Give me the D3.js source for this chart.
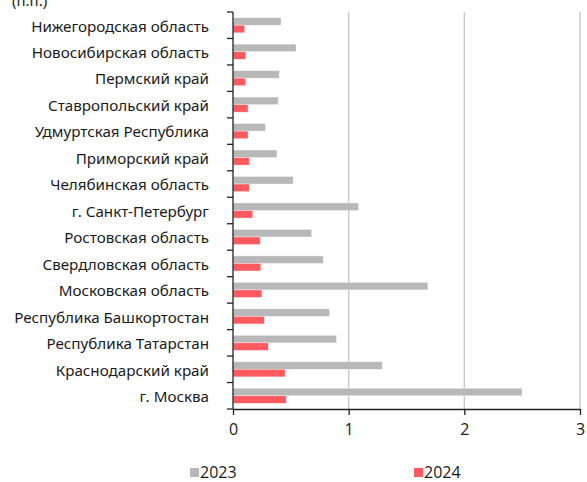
<!DOCTYPE html>
<html>
<head>
<meta charset="utf-8">
<script src="https://cdn.jsdelivr.net/npm/d3@7"></script>
<style>
  html, body { margin: 0; padding: 0; background: #fff; }
  svg { display: block; }
</style>
</head>
<body>
<svg id="chart" width="587" height="482"></svg>
<script>
// Regions, top to bottom
const regions = [
  "Нижегородская область",
  "Новосибирская область",
  "Пермский край",
  "Ставропольский край",
  "Удмуртская Республика",
  "Приморский край",
  "Челябинская область",
  "г. Санкт-Петербург",
  "Ростовская область",
  "Свердловская область",
  "Московская область",
  "Республика Башкортостан",
  "Республика Татарстан",
  "Краснодарский край",
  "г. Москва"
];
const values2023 = [0.415, 0.545, 0.40, 0.39, 0.28, 0.38, 0.52, 1.085, 0.68, 0.78, 1.685, 0.835, 0.895, 1.29, 2.50];
const values2024 = [0.10, 0.11, 0.11, 0.13, 0.13, 0.14, 0.14, 0.17, 0.235, 0.24, 0.25, 0.27, 0.305, 0.45, 0.46];
const seriesNames = ["2023", "2024"];
const xTicks = [0, 1, 2, 3];
const unitLabel = "(п.п.)";

const colors = { "2023": "#b8b8b8", "2024": "#ff5a5f" };
const labelFont = "'Noto Sans', sans-serif";
const numFont = "'Open Sans', sans-serif";

const svg = d3.select("#chart");
const margin = { top: 12, right: 7, bottom: 73, left: 233 };
const W = 587, H = 482;
const innerW = W - margin.left - margin.right;
const innerH = H - margin.top - margin.bottom;

const g = svg.append("g").attr("transform", `translate(${margin.left},${margin.top})`);

const x = d3.scaleLinear().domain([0, 3]).range([0, innerW]);
const y = d3.scaleBand().domain(regions).range([0, innerH]).paddingInner(0.43).paddingOuter(0.215);
const ySub = d3.scaleBand().domain(seriesNames).range([0, y.bandwidth()]);

// vertical gridlines
g.append("g").selectAll("line")
  .data(xTicks.filter(d => d > 0))
  .join("line")
  .attr("x1", d => x(d)).attr("x2", d => x(d))
  .attr("y1", 0).attr("y2", innerH)
  .attr("stroke", "#c8c8c8").attr("stroke-width", 1.4);

// bars
const rows = regions.map((r, i) => ({ region: r, vals: [values2023[i], values2024[i]] }));
const grp = g.append("g").selectAll("g")
  .data(rows).join("g")
  .attr("transform", d => `translate(0,${y(d.region)})`);
grp.selectAll("rect")
  .data(d => seriesNames.map((s, k) => ({ s, v: d.vals[k] })))
  .join("rect")
  .attr("x", x(0))
  .attr("y", d => ySub(d.s))
  .attr("width", d => x(d.v) - x(0))
  .attr("height", ySub.bandwidth())
  .attr("fill", d => colors[d.s])
  .attr("stroke", "#fff").attr("stroke-opacity", 0.6).attr("stroke-width", 0.6);

// y axis with category ticks on band boundaries
const yAxisG = g.append("g");
yAxisG.append("line")
  .attr("x1", 0).attr("x2", 0).attr("y1", 0).attr("y2", innerH)
  .attr("stroke", "#222").attr("stroke-width", 1.3);
const boundaries = d3.range(regions.length + 1).map(i => i * innerH / regions.length);
yAxisG.selectAll("line.tk")
  .data(boundaries).join("line").attr("class", "tk")
  .attr("x1", -6).attr("x2", 0)
  .attr("y1", d => d).attr("y2", d => d)
  .attr("stroke", "#222").attr("stroke-width", 1.3);
yAxisG.selectAll("text")
  .data(regions).join("text")
  .attr("x", -24)
  .attr("y", d => y(d) + y.bandwidth() / 2 + 1)
  .attr("dy", "0.35em")
  .attr("text-anchor", "end")
  .attr("font-family", labelFont)
  .attr("font-size", 15.2)
  .attr("fill", "#1a1a1a")
  .text(d => d);

// x axis
const xAxis = d3.axisBottom(x).tickValues(xTicks).tickSize(6).tickSizeOuter(0).tickPadding(9)
  .tickFormat(d3.format("d"));
const xAxisG = g.append("g").attr("transform", `translate(0,${innerH})`).call(xAxis);
xAxisG.select(".domain").attr("stroke", "#222").attr("stroke-width", 1.3);
xAxisG.selectAll(".tick line").attr("stroke", "#222").attr("stroke-width", 1.3);
xAxisG.selectAll(".tick text")
  .attr("font-family", numFont).attr("font-size", 16).attr("fill", "#1a1a1a");

// unit label, partly cut off at the top
svg.append("text")
  .attr("x", 12).attr("y", 6)
  .attr("font-family", labelFont).attr("font-size", 15).attr("fill", "#1a1a1a")
  .text(unitLabel);

// legend
const legendPos = [190, 414];
const lg = svg.append("g").selectAll("g")
  .data(seriesNames).join("g")
  .attr("transform", (d, i) => `translate(${legendPos[i]},468)`);
lg.append("rect").attr("width", 9).attr("height", 9).attr("fill", d => colors[d]);
lg.append("text")
  .attr("x", 10).attr("y", 10)
  .attr("font-family", numFont).attr("font-size", 16).attr("fill", "#1a1a1a")
  .text(d => d);
</script>
</body>
</html>
